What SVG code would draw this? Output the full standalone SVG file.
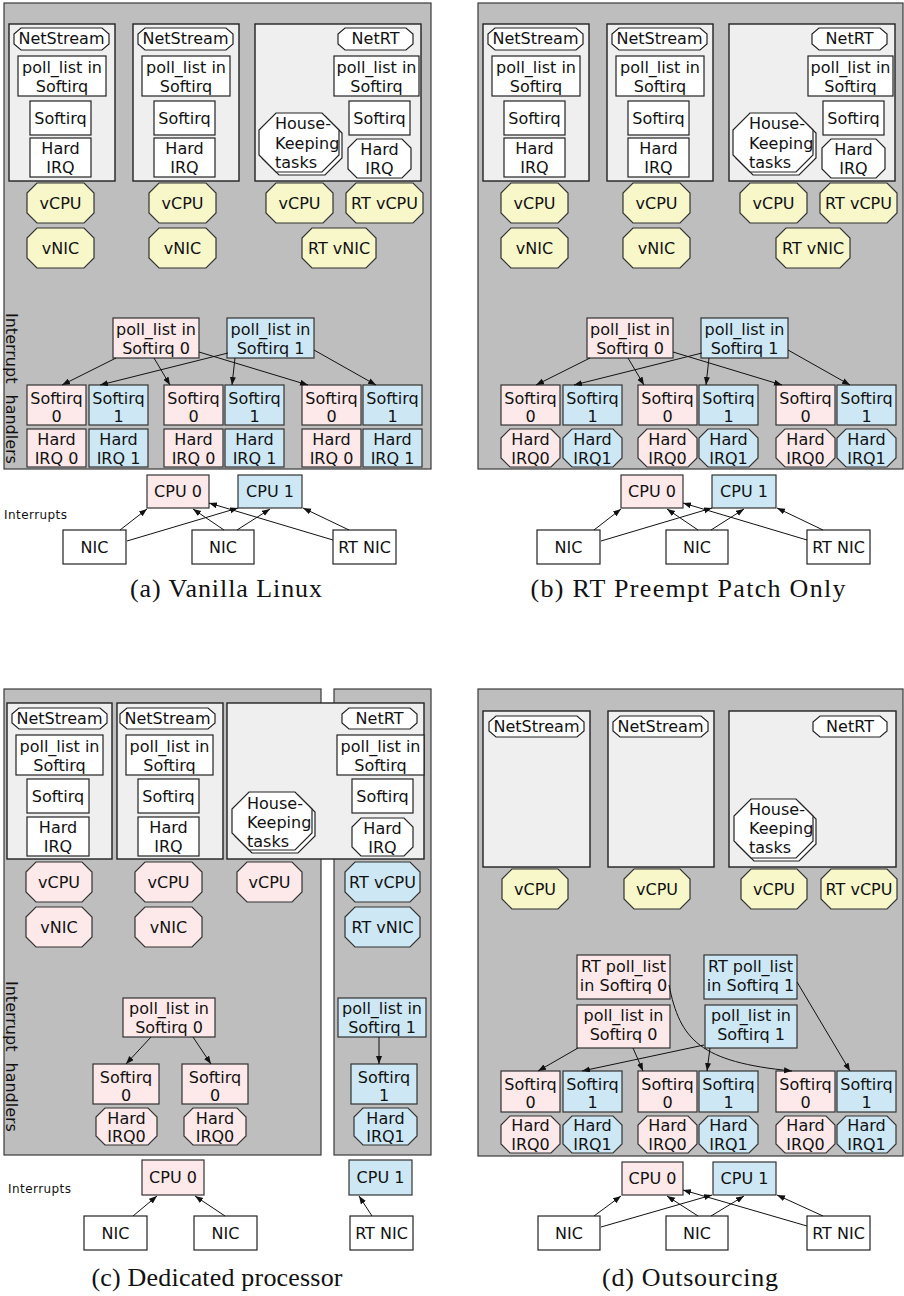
<svg xmlns="http://www.w3.org/2000/svg" width="904" height="1296" viewBox="0 0 904 1296">
<defs>
<marker id="ah" markerWidth="9" markerHeight="7" refX="8" refY="3" orient="auto" markerUnits="userSpaceOnUse"><path d="M0,0 L8,3 L0,6 z" fill="#111"/></marker>
</defs>
<style>
.panel{fill:#bebebe;stroke:#3a3a3a;stroke-width:1.2}
.cont{fill:#efefef;stroke:#222;stroke-width:1.4}
.w{fill:#fff;stroke:#222;stroke-width:1.2}
.pk{fill:#fde9e9;stroke:#333;stroke-width:1.2}
.bl{fill:#cde8f4;stroke:#333;stroke-width:1.2}
.yl{fill:#f7f7c9;stroke:#333;stroke-width:1.2}
text{font-family:"DejaVu Sans",Verdana,sans-serif;font-size:16px;fill:#111}
.c{text-anchor:middle}
.cap{font-family:"Liberation Serif","Times New Roman",serif;font-size:26px;text-anchor:middle}
.small{font-size:12px}
.edges line,.edges path{stroke:#111;stroke-width:1;fill:none;marker-end:url(#ah)}
</style>

<!-- ================= (a) ================= -->
<g id="a-panel"><rect class="panel" x="4" y="3" width="427" height="466"/></g>
<text id="a-ih-label" transform="translate(6,313) rotate(90)" word-spacing="6">Interrupt handlers</text>
<g id="a-vm1"><rect class="cont" x="9" y="24" width="106" height="157"/></g>
<g id="a-vm2"><rect class="cont" x="133" y="24" width="106" height="157"/></g>
<g id="a-vm3"><rect class="cont" x="255" y="24" width="166" height="157"/></g>
<g id="a-ns1"><polygon class="w" points="21,28 102,28 109,34 109,44 102,50 21,50 14,44 14,34"/><text class="c" x="61.5" y="44">NetStream</text></g>
<g id="a-pl1"><rect class="w" x="18" y="56" width="88" height="40"/><text class="c" x="62" y="73">poll_list in</text><text class="c" x="62" y="92">Softirq</text></g>
<g id="a-sq1"><rect class="w" x="30" y="101" width="61" height="34"/><text class="c" x="60.5" y="124">Softirq</text></g>
<g id="a-hi1"><rect class="w" x="30" y="138" width="61" height="39"/><text class="c" x="60.5" y="154">Hard</text><text class="c" x="60.5" y="172.5">IRQ</text></g>
<g id="a-ns2"><polygon class="w" points="145,28 226,28 233,34 233,44 226,50 145,50 138,44 138,34"/><text class="c" x="185.5" y="44">NetStream</text></g>
<g id="a-pl2"><rect class="w" x="142" y="56" width="88" height="40"/><text class="c" x="186" y="73">poll_list in</text><text class="c" x="186" y="92">Softirq</text></g>
<g id="a-sq2"><rect class="w" x="154" y="101" width="61" height="34"/><text class="c" x="184.5" y="124">Softirq</text></g>
<g id="a-hi2"><rect class="w" x="154" y="138" width="61" height="39"/><text class="c" x="184.5" y="154">Hard</text><text class="c" x="184.5" y="172.5">IRQ</text></g>
<g id="a-nrt"><polygon class="w" points="345,28 406,28 413,34 413,44 406,50 345,50 338,44 338,34"/><text class="c" x="375.5" y="44">NetRT</text></g>
<g id="a-pl3"><rect class="w" x="334" y="56" width="85" height="40"/><text class="c" x="376.5" y="73">poll_list in</text><text class="c" x="376.5" y="92">Softirq</text></g>
<g id="a-sq3"><rect class="w" x="349" y="101" width="61" height="34"/><text class="c" x="379.5" y="124">Softirq</text></g>
<g id="a-hi3"><polygon class="w" points="357,139 402,139 411,148 411,169 402,178 357,178 348,169 348,148"/><text class="c" x="379.5" y="155">Hard</text><text class="c" x="379.5" y="173.5">IRQ</text></g>
<g id="a-hk"><polygon class="w" points="279,116 325,116 342,133 342,158 325,175 279,175 262,158 262,133"/><polygon class="w" points="276,113 322,113 339,130 339,155 322,172 276,172 259,155 259,130"/><text x="275" y="129">House-</text><text x="275" y="148.5">Keeping</text><text x="275" y="168">tasks</text></g>
<g id="a-vcpu1"><polygon class="yl" points="37,183 84,183 94,193 94,213 84,223 37,223 27,213 27,193"/><text class="c" x="60.5" y="209">vCPU</text></g>
<g id="a-vnic1"><polygon class="yl" points="37,228 84,228 94,238 94,258 84,268 37,268 27,258 27,238"/><text class="c" x="60.5" y="254">vNIC</text></g>
<g id="a-vcpu2"><polygon class="yl" points="159,183 206,183 216,193 216,213 206,223 159,223 149,213 149,193"/><text class="c" x="182.5" y="209">vCPU</text></g>
<g id="a-vnic2"><polygon class="yl" points="159,228 206,228 216,238 216,258 206,268 159,268 149,258 149,238"/><text class="c" x="182.5" y="254">vNIC</text></g>
<g id="a-vcpu3"><polygon class="yl" points="276,183 323,183 333,193 333,213 323,223 276,223 266,213 266,193"/><text class="c" x="299.5" y="209">vCPU</text></g>
<g id="a-rtvcpu"><polygon class="yl" points="356,183 413,183 423,193 423,213 413,223 356,223 346,213 346,193"/><text class="c" x="384.5" y="209">RT vCPU</text></g>
<g id="a-rtvnic"><polygon class="yl" points="312,228 366,228 376,238 376,258 366,268 312,268 302,258 302,238"/><text class="c" x="339" y="254">RT vNIC</text></g>
<g id="a-poll0"><rect class="pk" x="113" y="318" width="86" height="40"/><text class="c" x="156" y="335">poll_list in</text><text class="c" x="156" y="354">Softirq 0</text></g>
<g id="a-poll1"><rect class="bl" x="227" y="318" width="87" height="40"/><text class="c" x="270.5" y="335">poll_list in</text><text class="c" x="270.5" y="354">Softirq 1</text></g>
<g id="a-s0a"><rect class="pk" x="27" y="385" width="59" height="40"/><text class="c" x="56.5" y="404">Softirq</text><text class="c" x="56.5" y="422">0</text></g>
<g id="a-s1a"><rect class="bl" x="89" y="385" width="59" height="40"/><text class="c" x="118.5" y="404">Softirq</text><text class="c" x="118.5" y="422">1</text></g>
<g id="a-s0b"><rect class="pk" x="164" y="385" width="59" height="40"/><text class="c" x="193.5" y="404">Softirq</text><text class="c" x="193.5" y="422">0</text></g>
<g id="a-s1b"><rect class="bl" x="225" y="385" width="59" height="40"/><text class="c" x="254.5" y="404">Softirq</text><text class="c" x="254.5" y="422">1</text></g>
<g id="a-s0c"><rect class="pk" x="302" y="385" width="59" height="40"/><text class="c" x="331.5" y="404">Softirq</text><text class="c" x="331.5" y="422">0</text></g>
<g id="a-s1c"><rect class="bl" x="363" y="385" width="59" height="40"/><text class="c" x="392.5" y="404">Softirq</text><text class="c" x="392.5" y="422">1</text></g>
<g id="a-h0a"><rect class="pk" x="27" y="429" width="59" height="38"/><text class="c" x="56.5" y="445">Hard</text><text class="c" x="56.5" y="463.5">IRQ 0</text></g>
<g id="a-h1a"><rect class="bl" x="89" y="429" width="59" height="38"/><text class="c" x="118.5" y="445">Hard</text><text class="c" x="118.5" y="463.5">IRQ 1</text></g>
<g id="a-h0b"><rect class="pk" x="164" y="429" width="59" height="38"/><text class="c" x="193.5" y="445">Hard</text><text class="c" x="193.5" y="463.5">IRQ 0</text></g>
<g id="a-h1b"><rect class="bl" x="225" y="429" width="59" height="38"/><text class="c" x="254.5" y="445">Hard</text><text class="c" x="254.5" y="463.5">IRQ 1</text></g>
<g id="a-h0c"><rect class="pk" x="302" y="429" width="59" height="38"/><text class="c" x="331.5" y="445">Hard</text><text class="c" x="331.5" y="463.5">IRQ 0</text></g>
<g id="a-h1c"><rect class="bl" x="363" y="429" width="59" height="38"/><text class="c" x="392.5" y="445">Hard</text><text class="c" x="392.5" y="463.5">IRQ 1</text></g>
<text id="a-int-label" class="small" x="4" y="519" textLength="63">Interrupts</text>
<g id="a-cpu0"><rect class="pk" x="147" y="475" width="62" height="33"/><text class="c" x="178" y="497">CPU 0</text></g>
<g id="a-cpu1"><rect class="bl" x="238" y="475" width="64" height="33"/><text class="c" x="270" y="497">CPU 1</text></g>
<g id="a-nic1"><rect class="w" x="63" y="530" width="63" height="34"/><text class="c" x="94.5" y="553">NIC</text></g>
<g id="a-nic2"><rect class="w" x="192" y="530" width="62" height="34"/><text class="c" x="223" y="553">NIC</text></g>
<g id="a-rtnic"><rect class="w" x="333" y="530" width="63" height="34"/><text class="c" x="364.5" y="553">RT NIC</text></g>
<g id="a-edges" class="edges">
<line x1="116" y1="358" x2="62" y2="385"/>
<line x1="154" y1="358" x2="170" y2="385"/>
<line x1="199" y1="352" x2="308" y2="385"/>
<line x1="228" y1="353" x2="100" y2="385"/>
<line x1="235" y1="358" x2="232" y2="385"/>
<line x1="314" y1="350" x2="376" y2="385"/>
<line x1="120" y1="530" x2="147" y2="509"/>
<line x1="127" y1="541" x2="238" y2="508"/>
<line x1="224" y1="530" x2="193" y2="509"/>
<line x1="237" y1="530" x2="270" y2="509"/>
<line x1="333" y1="540" x2="209" y2="503"/>
<line x1="349" y1="530" x2="303" y2="508"/>
</g>
<text id="a-caption" class="cap" x="226" y="597" textLength="192">(a) Vanilla Linux</text>

<!-- ================= (b) ================= -->
<g id="b-panel"><rect class="panel" x="478" y="3" width="425" height="466"/></g>
<g transform="translate(474,0)">
<g id="b-vm1"><rect class="cont" x="9" y="24" width="106" height="157"/></g>
<g id="b-vm2"><rect class="cont" x="133" y="24" width="106" height="157"/></g>
<g id="b-vm3"><rect class="cont" x="255" y="24" width="166" height="157"/></g>
<g id="b-ns1"><polygon class="w" points="21,28 102,28 109,34 109,44 102,50 21,50 14,44 14,34"/><text class="c" x="61.5" y="44">NetStream</text></g>
<g id="b-pl1"><rect class="w" x="18" y="56" width="88" height="40"/><text class="c" x="62" y="73">poll_list in</text><text class="c" x="62" y="92">Softirq</text></g>
<g id="b-sq1"><rect class="w" x="30" y="101" width="61" height="34"/><text class="c" x="60.5" y="124">Softirq</text></g>
<g id="b-hi1"><rect class="w" x="30" y="138" width="61" height="39"/><text class="c" x="60.5" y="154">Hard</text><text class="c" x="60.5" y="172.5">IRQ</text></g>
<g id="b-ns2"><polygon class="w" points="145,28 226,28 233,34 233,44 226,50 145,50 138,44 138,34"/><text class="c" x="185.5" y="44">NetStream</text></g>
<g id="b-pl2"><rect class="w" x="142" y="56" width="88" height="40"/><text class="c" x="186" y="73">poll_list in</text><text class="c" x="186" y="92">Softirq</text></g>
<g id="b-sq2"><rect class="w" x="154" y="101" width="61" height="34"/><text class="c" x="184.5" y="124">Softirq</text></g>
<g id="b-hi2"><rect class="w" x="154" y="138" width="61" height="39"/><text class="c" x="184.5" y="154">Hard</text><text class="c" x="184.5" y="172.5">IRQ</text></g>
<g id="b-nrt"><polygon class="w" points="345,28 406,28 413,34 413,44 406,50 345,50 338,44 338,34"/><text class="c" x="375.5" y="44">NetRT</text></g>
<g id="b-pl3"><rect class="w" x="334" y="56" width="85" height="40"/><text class="c" x="376.5" y="73">poll_list in</text><text class="c" x="376.5" y="92">Softirq</text></g>
<g id="b-sq3"><rect class="w" x="349" y="101" width="61" height="34"/><text class="c" x="379.5" y="124">Softirq</text></g>
<g id="b-hi3"><polygon class="w" points="357,139 402,139 411,148 411,169 402,178 357,178 348,169 348,148"/><text class="c" x="379.5" y="155">Hard</text><text class="c" x="379.5" y="173.5">IRQ</text></g>
<g id="b-hk"><polygon class="w" points="279,116 325,116 342,133 342,158 325,175 279,175 262,158 262,133"/><polygon class="w" points="276,113 322,113 339,130 339,155 322,172 276,172 259,155 259,130"/><text x="275" y="129">House-</text><text x="275" y="148.5">Keeping</text><text x="275" y="168">tasks</text></g>
<g id="b-vcpu1"><polygon class="yl" points="37,183 84,183 94,193 94,213 84,223 37,223 27,213 27,193"/><text class="c" x="60.5" y="209">vCPU</text></g>
<g id="b-vnic1"><polygon class="yl" points="37,228 84,228 94,238 94,258 84,268 37,268 27,258 27,238"/><text class="c" x="60.5" y="254">vNIC</text></g>
<g id="b-vcpu2"><polygon class="yl" points="159,183 206,183 216,193 216,213 206,223 159,223 149,213 149,193"/><text class="c" x="182.5" y="209">vCPU</text></g>
<g id="b-vnic2"><polygon class="yl" points="159,228 206,228 216,238 216,258 206,268 159,268 149,258 149,238"/><text class="c" x="182.5" y="254">vNIC</text></g>
<g id="b-vcpu3"><polygon class="yl" points="276,183 323,183 333,193 333,213 323,223 276,223 266,213 266,193"/><text class="c" x="299.5" y="209">vCPU</text></g>
<g id="b-rtvcpu"><polygon class="yl" points="356,183 413,183 423,193 423,213 413,223 356,223 346,213 346,193"/><text class="c" x="384.5" y="209">RT vCPU</text></g>
<g id="b-rtvnic"><polygon class="yl" points="312,228 366,228 376,238 376,258 366,268 312,268 302,258 302,238"/><text class="c" x="339" y="254">RT vNIC</text></g>
<g id="b-poll0"><rect class="pk" x="113" y="318" width="86" height="40"/><text class="c" x="156" y="335">poll_list in</text><text class="c" x="156" y="354">Softirq 0</text></g>
<g id="b-poll1"><rect class="bl" x="227" y="318" width="87" height="40"/><text class="c" x="270.5" y="335">poll_list in</text><text class="c" x="270.5" y="354">Softirq 1</text></g>
<g id="b-s0a"><rect class="pk" x="27" y="385" width="59" height="40"/><text class="c" x="56.5" y="404">Softirq</text><text class="c" x="56.5" y="422">0</text></g>
<g id="b-s1a"><rect class="bl" x="89" y="385" width="59" height="40"/><text class="c" x="118.5" y="404">Softirq</text><text class="c" x="118.5" y="422">1</text></g>
<g id="b-s0b"><rect class="pk" x="164" y="385" width="59" height="40"/><text class="c" x="193.5" y="404">Softirq</text><text class="c" x="193.5" y="422">0</text></g>
<g id="b-s1b"><rect class="bl" x="225" y="385" width="59" height="40"/><text class="c" x="254.5" y="404">Softirq</text><text class="c" x="254.5" y="422">1</text></g>
<g id="b-s0c"><rect class="pk" x="302" y="385" width="59" height="40"/><text class="c" x="331.5" y="404">Softirq</text><text class="c" x="331.5" y="422">0</text></g>
<g id="b-s1c"><rect class="bl" x="363" y="385" width="59" height="40"/><text class="c" x="392.5" y="404">Softirq</text><text class="c" x="392.5" y="422">1</text></g>
<g id="b-h0a"><polygon class="pk" points="36,429 77,429 86,438 86,458 77,467 36,467 27,458 27,438"/><text class="c" x="56.5" y="445">Hard</text><text class="c" x="56.5" y="463.5">IRQ0</text></g>
<g id="b-h1a"><polygon class="bl" points="98,429 139,429 148,438 148,458 139,467 98,467 89,458 89,438"/><text class="c" x="118.5" y="445">Hard</text><text class="c" x="118.5" y="463.5">IRQ1</text></g>
<g id="b-h0b"><polygon class="pk" points="173,429 214,429 223,438 223,458 214,467 173,467 164,458 164,438"/><text class="c" x="193.5" y="445">Hard</text><text class="c" x="193.5" y="463.5">IRQ0</text></g>
<g id="b-h1b"><polygon class="bl" points="234,429 275,429 284,438 284,458 275,467 234,467 225,458 225,438"/><text class="c" x="254.5" y="445">Hard</text><text class="c" x="254.5" y="463.5">IRQ1</text></g>
<g id="b-h0c"><polygon class="pk" points="311,429 352,429 361,438 361,458 352,467 311,467 302,458 302,438"/><text class="c" x="331.5" y="445">Hard</text><text class="c" x="331.5" y="463.5">IRQ0</text></g>
<g id="b-h1c"><polygon class="bl" points="372,429 413,429 422,438 422,458 413,467 372,467 363,458 363,438"/><text class="c" x="392.5" y="445">Hard</text><text class="c" x="392.5" y="463.5">IRQ1</text></g>
<g id="b-cpu0"><rect class="pk" x="147" y="475" width="62" height="33"/><text class="c" x="178" y="497">CPU 0</text></g>
<g id="b-cpu1"><rect class="bl" x="238" y="475" width="64" height="33"/><text class="c" x="270" y="497">CPU 1</text></g>
<g id="b-nic1"><rect class="w" x="63" y="530" width="63" height="34"/><text class="c" x="94.5" y="553">NIC</text></g>
<g id="b-nic2"><rect class="w" x="192" y="530" width="62" height="34"/><text class="c" x="223" y="553">NIC</text></g>
<g id="b-rtnic"><rect class="w" x="333" y="530" width="63" height="34"/><text class="c" x="364.5" y="553">RT NIC</text></g>
<g id="b-edges" class="edges">
<line x1="116" y1="358" x2="62" y2="385"/>
<line x1="154" y1="358" x2="170" y2="385"/>
<line x1="199" y1="352" x2="308" y2="385"/>
<line x1="228" y1="353" x2="100" y2="385"/>
<line x1="235" y1="358" x2="232" y2="385"/>
<line x1="314" y1="350" x2="376" y2="385"/>
<line x1="120" y1="530" x2="147" y2="509"/>
<line x1="127" y1="541" x2="238" y2="508"/>
<line x1="224" y1="530" x2="193" y2="509"/>
<line x1="237" y1="530" x2="270" y2="509"/>
<line x1="333" y1="540" x2="209" y2="503"/>
<line x1="349" y1="530" x2="303" y2="508"/>
</g>
</g>
<text id="b-caption" class="cap" x="688" y="597" textLength="315">(b) RT Preempt Patch Only</text>

<!-- ================= (c) ================= -->
<g id="c-panel0"><rect class="panel" x="4" y="689" width="317" height="466"/></g>
<g id="c-panel1"><rect class="panel" x="334" y="689" width="97" height="466"/></g>
<text id="c-ih-label" transform="translate(6,981) rotate(90)" word-spacing="6">Interrupt handlers</text>
<g id="c-vm1"><rect class="cont" x="7" y="703" width="105" height="156"/></g>
<g id="c-vm2"><rect class="cont" x="117" y="703" width="106" height="156"/></g>
<g id="c-vm3"><rect class="cont" x="227" y="703" width="197" height="156"/></g>
<g id="c-ns1"><polygon class="w" points="19,708 100,708 107,714 107,723 100,729 19,729 12,723 12,714"/><text class="c" x="59.5" y="724">NetStream</text></g>
<g id="c-pl1"><rect class="w" x="16" y="735" width="87" height="40"/><text class="c" x="59.5" y="752">poll_list in</text><text class="c" x="59.5" y="771">Softirq</text></g>
<g id="c-sq1"><rect class="w" x="27" y="779" width="62" height="34"/><text class="c" x="58" y="802">Softirq</text></g>
<g id="c-hi1"><rect class="w" x="27" y="817" width="62" height="39"/><text class="c" x="58" y="833">Hard</text><text class="c" x="58" y="851.5">IRQ</text></g>
<g id="c-ns2"><polygon class="w" points="127,708 208,708 215,714 215,723 208,729 127,729 120,723 120,714"/><text class="c" x="167.5" y="724">NetStream</text></g>
<g id="c-pl2"><rect class="w" x="126" y="735" width="87" height="40"/><text class="c" x="169.5" y="752">poll_list in</text><text class="c" x="169.5" y="771">Softirq</text></g>
<g id="c-sq2"><rect class="w" x="138" y="779" width="61" height="34"/><text class="c" x="168.5" y="802">Softirq</text></g>
<g id="c-hi2"><rect class="w" x="138" y="817" width="61" height="39"/><text class="c" x="168.5" y="833">Hard</text><text class="c" x="168.5" y="851.5">IRQ</text></g>
<g id="c-nrt"><polygon class="w" points="349,708 410,708 417,714 417,723 410,729 349,729 342,723 342,714"/><text class="c" x="379.5" y="724">NetRT</text></g>
<g id="c-pl3"><rect class="w" x="337" y="735" width="87" height="40"/><text class="c" x="380.5" y="752">poll_list in</text><text class="c" x="380.5" y="771">Softirq</text></g>
<g id="c-sq3"><rect class="w" x="352" y="779" width="61" height="34"/><text class="c" x="382.5" y="802">Softirq</text></g>
<g id="c-hi3"><polygon class="w" points="361,818 404,818 413,827 413,847 404,856 361,856 352,847 352,827"/><text class="c" x="382.5" y="834">Hard</text><text class="c" x="382.5" y="852.5">IRQ</text></g>
<g id="c-hk"><polygon class="w" points="252,795 298,795 315,812 315,836 298,853 252,853 235,836 235,812"/><polygon class="w" points="249,792 295,792 312,809 312,833 295,850 249,850 232,833 232,809"/><text x="247" y="809">House-</text><text x="247" y="828">Keeping</text><text x="247" y="847">tasks</text></g>
<g id="c-vcpu1"><polygon class="pk" points="36,862 82,862 92,872 92,892 82,902 36,902 26,892 26,872"/><text class="c" x="59" y="888">vCPU</text></g>
<g id="c-vnic1"><polygon class="pk" points="36,907 82,907 92,917 92,937 82,947 36,947 26,937 26,917"/><text class="c" x="59" y="933">vNIC</text></g>
<g id="c-vcpu2"><polygon class="pk" points="145,862 192,862 202,872 202,892 192,902 145,902 135,892 135,872"/><text class="c" x="168.5" y="888">vCPU</text></g>
<g id="c-vnic2"><polygon class="pk" points="145,907 192,907 202,917 202,937 192,947 145,947 135,937 135,917"/><text class="c" x="168.5" y="933">vNIC</text></g>
<g id="c-vcpu3"><polygon class="pk" points="247,862 292,862 302,872 302,892 292,902 247,902 237,892 237,872"/><text class="c" x="269.5" y="888">vCPU</text></g>
<g id="c-rtvcpu"><polygon class="bl" points="355,862 410,862 420,872 420,892 410,902 355,902 345,892 345,872"/><text class="c" x="382.5" y="888">RT vCPU</text></g>
<g id="c-rtvnic"><polygon class="bl" points="355,907 410,907 420,917 420,937 410,947 355,947 345,937 345,917"/><text class="c" x="382.5" y="933">RT vNIC</text></g>
<g id="c-poll0"><rect class="pk" x="123" y="998" width="92" height="39"/><text class="c" x="169" y="1014">poll_list in</text><text class="c" x="169" y="1033">Softirq 0</text></g>
<g id="c-s0a"><rect class="pk" x="93" y="1064" width="66" height="40"/><text class="c" x="126" y="1083">Softirq</text><text class="c" x="126" y="1101">0</text></g>
<g id="c-s0b"><rect class="pk" x="182" y="1064" width="66" height="40"/><text class="c" x="215" y="1083">Softirq</text><text class="c" x="215" y="1101">0</text></g>
<g id="c-h0a"><polygon class="pk" points="105,1108 148,1108 157,1117 157,1136 148,1145 105,1145 96,1136 96,1117"/><text class="c" x="126.5" y="1124">Hard</text><text class="c" x="126.5" y="1142">IRQ0</text></g>
<g id="c-h0b"><polygon class="pk" points="193,1108 237,1108 246,1117 246,1136 237,1145 193,1145 184,1136 184,1117"/><text class="c" x="215" y="1124">Hard</text><text class="c" x="215" y="1142">IRQ0</text></g>
<g id="c-poll1"><rect class="bl" x="338" y="998" width="88" height="39"/><text class="c" x="382" y="1014">poll_list in</text><text class="c" x="382" y="1033">Softirq 1</text></g>
<g id="c-s1"><rect class="bl" x="351" y="1064" width="66" height="40"/><text class="c" x="384" y="1083">Softirq</text><text class="c" x="384" y="1101">1</text></g>
<g id="c-h1"><polygon class="bl" points="363,1108 408,1108 417,1117 417,1136 408,1145 363,1145 354,1136 354,1117"/><text class="c" x="385.5" y="1124">Hard</text><text class="c" x="385.5" y="1142">IRQ1</text></g>
<text id="c-int-label" class="small" x="8" y="1193" textLength="63">Interrupts</text>
<g id="c-cpu0"><rect class="pk" x="142" y="1160" width="62" height="35"/><text class="c" x="173" y="1183">CPU 0</text></g>
<g id="c-cpu1"><rect class="bl" x="349" y="1160" width="63" height="35"/><text class="c" x="380.5" y="1183">CPU 1</text></g>
<g id="c-nic1"><rect class="w" x="84" y="1216" width="63" height="34"/><text class="c" x="115.5" y="1239">NIC</text></g>
<g id="c-nic2"><rect class="w" x="194" y="1216" width="63" height="34"/><text class="c" x="225.5" y="1239">NIC</text></g>
<g id="c-rtnic"><rect class="w" x="350" y="1216" width="63" height="34"/><text class="c" x="381.5" y="1239">RT NIC</text></g>
<g id="c-edges" class="edges">
<line x1="151" y1="1037" x2="126" y2="1064"/>
<line x1="193" y1="1037" x2="211" y2="1064"/>
<line x1="379" y1="1037" x2="379" y2="1064"/>
<line x1="133" y1="1216" x2="157" y2="1196"/>
<line x1="225" y1="1216" x2="195" y2="1196"/>
<line x1="372" y1="1216" x2="359" y2="1196"/>
</g>
<text id="c-caption" class="cap" x="217" y="1286" textLength="251">(c) Dedicated processor</text>

<!-- ================= (d) ================= -->
<g id="d-panel"><rect class="panel" x="478" y="689" width="425" height="467"/></g>
<g id="d-vm1"><rect class="cont" x="483" y="711" width="107" height="156"/></g>
<g id="d-vm2"><rect class="cont" x="608" y="711" width="106" height="156"/></g>
<g id="d-vm3"><rect class="cont" x="729" y="711" width="167" height="156"/></g>
<g id="d-ns1"><polygon class="w" points="496,716 577,716 584,722 584,731 577,737 496,737 489,731 489,722"/><text class="c" x="536.5" y="732">NetStream</text></g>
<g id="d-ns2"><polygon class="w" points="620,716 701,716 708,722 708,731 701,737 620,737 613,731 613,722"/><text class="c" x="660.5" y="732">NetStream</text></g>
<g id="d-nrt"><polygon class="w" points="820,716 880,716 887,722 887,731 880,737 820,737 813,731 813,722"/><text class="c" x="850" y="732">NetRT</text></g>
<g id="d-hk"><polygon class="w" points="754,802 799,802 816,819 816,844 799,861 754,861 737,844 737,819"/><polygon class="w" points="751,799 796,799 813,816 813,841 796,858 751,858 734,841 734,816"/><text x="749" y="815">House-</text><text x="749" y="834">Keeping</text><text x="749" y="853">tasks</text></g>
<g id="d-vcpu1"><polygon class="yl" points="512,869 558,869 568,879 568,899 558,909 512,909 502,899 502,879"/><text class="c" x="535" y="895">vCPU</text></g>
<g id="d-vcpu2"><polygon class="yl" points="634,869 680,869 690,879 690,899 680,909 634,909 624,899 624,879"/><text class="c" x="657" y="895">vCPU</text></g>
<g id="d-vcpu3"><polygon class="yl" points="751,869 797,869 807,879 807,899 797,909 751,909 741,899 741,879"/><text class="c" x="774" y="895">vCPU</text></g>
<g id="d-rtvcpu"><polygon class="yl" points="831,869 887,869 897,879 897,899 887,909 831,909 821,899 821,879"/><text class="c" x="859" y="895">RT vCPU</text></g>
<g id="d-rtpoll0"><rect class="pk" x="577" y="955" width="93" height="44"/><text class="c" x="623.5" y="972">RT poll_list</text><text class="c" x="623.5" y="991">in Softirq 0</text></g>
<g id="d-rtpoll1"><rect class="bl" x="704" y="955" width="93" height="44"/><text class="c" x="750.5" y="972">RT poll_list</text><text class="c" x="750.5" y="991">in Softirq 1</text></g>
<g id="d-poll0"><rect class="pk" x="577" y="1005" width="93" height="43"/><text class="c" x="623.5" y="1020.5">poll_list in</text><text class="c" x="623.5" y="1039.5">Softirq 0</text></g>
<g id="d-poll1"><rect class="bl" x="705" y="1005" width="92" height="43"/><text class="c" x="751" y="1020.5">poll_list in</text><text class="c" x="751" y="1039.5">Softirq 1</text></g>
<g transform="translate(474,686)">
<g id="d-s0a"><rect class="pk" x="27" y="385" width="59" height="41"/><text class="c" x="56.5" y="404">Softirq</text><text class="c" x="56.5" y="422">0</text></g>
<g id="d-s1a"><rect class="bl" x="89" y="385" width="59" height="41"/><text class="c" x="118.5" y="404">Softirq</text><text class="c" x="118.5" y="422">1</text></g>
<g id="d-s0b"><rect class="pk" x="164" y="385" width="59" height="41"/><text class="c" x="193.5" y="404">Softirq</text><text class="c" x="193.5" y="422">0</text></g>
<g id="d-s1b"><rect class="bl" x="225" y="385" width="59" height="41"/><text class="c" x="254.5" y="404">Softirq</text><text class="c" x="254.5" y="422">1</text></g>
<g id="d-s0c"><rect class="pk" x="302" y="385" width="59" height="41"/><text class="c" x="331.5" y="404">Softirq</text><text class="c" x="331.5" y="422">0</text></g>
<g id="d-s1c"><rect class="bl" x="363" y="385" width="59" height="41"/><text class="c" x="392.5" y="404">Softirq</text><text class="c" x="392.5" y="422">1</text></g>
<g id="d-h0a"><polygon class="pk" points="36,430 77,430 86,439 86,458 77,467 36,467 27,458 27,439"/><text class="c" x="56.5" y="445">Hard</text><text class="c" x="56.5" y="463.5">IRQ0</text></g>
<g id="d-h1a"><polygon class="bl" points="98,430 139,430 148,439 148,458 139,467 98,467 89,458 89,439"/><text class="c" x="118.5" y="445">Hard</text><text class="c" x="118.5" y="463.5">IRQ1</text></g>
<g id="d-h0b"><polygon class="pk" points="173,430 214,430 223,439 223,458 214,467 173,467 164,458 164,439"/><text class="c" x="193.5" y="445">Hard</text><text class="c" x="193.5" y="463.5">IRQ0</text></g>
<g id="d-h1b"><polygon class="bl" points="234,430 275,430 284,439 284,458 275,467 234,467 225,458 225,439"/><text class="c" x="254.5" y="445">Hard</text><text class="c" x="254.5" y="463.5">IRQ1</text></g>
<g id="d-h0c"><polygon class="pk" points="311,430 352,430 361,439 361,458 352,467 311,467 302,458 302,439"/><text class="c" x="331.5" y="445">Hard</text><text class="c" x="331.5" y="463.5">IRQ0</text></g>
<g id="d-h1c"><polygon class="bl" points="372,430 413,430 422,439 422,458 413,467 372,467 363,458 363,439"/><text class="c" x="392.5" y="445">Hard</text><text class="c" x="392.5" y="463.5">IRQ1</text></g>
<g id="d-cpu0"><rect class="pk" x="148" y="476" width="61" height="33"/><text class="c" x="178.5" y="498">CPU 0</text></g>
<g id="d-cpu1"><rect class="bl" x="239" y="476" width="63" height="33"/><text class="c" x="270.5" y="498">CPU 1</text></g>
<g id="d-nic1"><rect class="w" x="64" y="530" width="62" height="34"/><text class="c" x="95" y="553">NIC</text></g>
<g id="d-nic2"><rect class="w" x="192" y="530" width="62" height="34"/><text class="c" x="223" y="553">NIC</text></g>
<g id="d-rtnic"><rect class="w" x="333" y="530" width="63" height="34"/><text class="c" x="364.5" y="553">RT NIC</text></g>
<g id="d-edges-io" class="edges">
<line x1="120" y1="530" x2="147" y2="510"/>
<line x1="127" y1="541" x2="238" y2="509"/>
<line x1="224" y1="530" x2="193" y2="510"/>
<line x1="237" y1="530" x2="270" y2="510"/>
<line x1="333" y1="540" x2="209" y2="504"/>
<line x1="349" y1="530" x2="303" y2="509"/>
</g>
</g>
<g id="d-edges" class="edges">
<line x1="578" y1="1048" x2="538" y2="1071"/>
<line x1="633" y1="1048" x2="643" y2="1071"/>
<line x1="704" y1="1045" x2="582" y2="1071"/>
<line x1="710" y1="1048" x2="707" y2="1071"/>
<path d="M669,985 C680,1040 700,1062 792,1071"/>
<line x1="797" y1="982" x2="850" y2="1071"/>
</g>
<text id="d-caption" class="cap" x="690" y="1286" textLength="176">(d) Outsourcing</text>
</svg>
